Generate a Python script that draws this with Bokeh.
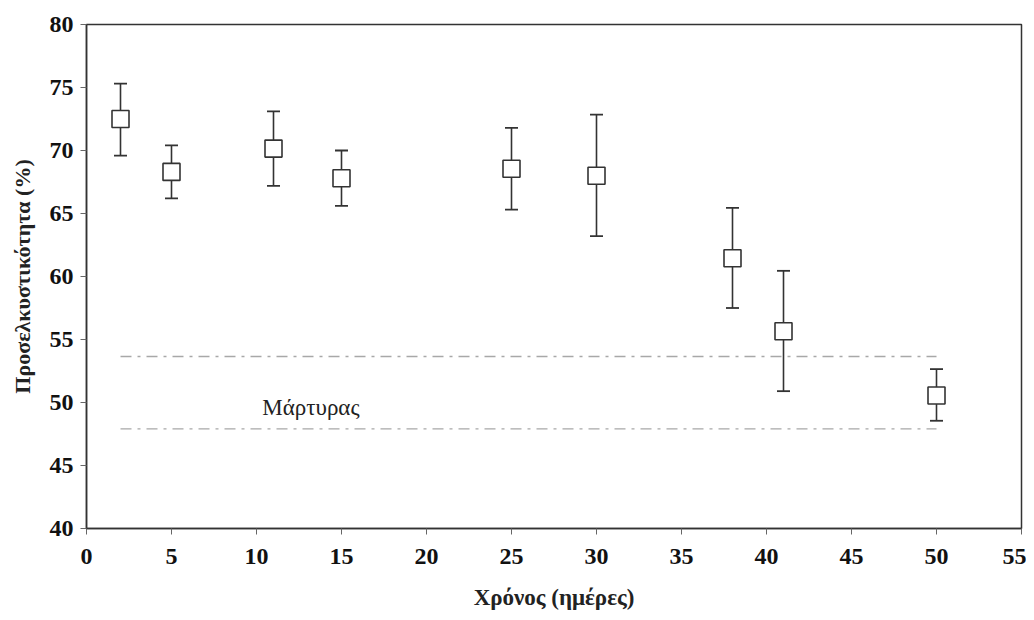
from bokeh.plotting import figure
from bokeh.models import ColumnDataSource, Whisker, Range1d, FixedTicker, TeeHead
from bokeh.core.properties import value
from bokeh.embed import file_html
from bokeh.resources import INLINE

# Data
days = [2, 5, 11, 15, 25, 30, 38, 41, 50]
attract = [72.5, 68.3, 70.15, 67.8, 68.55, 68.0, 61.45, 55.65, 50.55]
err_upper = [75.3, 70.4, 73.1, 70.0, 71.8, 72.85, 65.45, 60.45, 52.65]
err_lower = [69.6, 66.2, 67.2, 65.6, 65.3, 63.2, 57.5, 50.9, 48.55]
control_x = [2, 50]
control_upper = [53.65, 53.65]
control_lower = [47.9, 47.9]
control_label = ["Μάρτυρας"]
control_label_x = [13.2]
control_label_y = [49.6]
x_ticks = [0, 5, 10, 15, 20, 25, 30, 35, 40, 45, 50, 55]
y_ticks = [40, 45, 50, 55, 60, 65, 70, 75, 80]

SERIF = "Liberation Serif"

p = figure(width=1026, height=612, output_backend="svg", toolbar_location=None,
           x_range=Range1d(0, 55), y_range=Range1d(40, 80),
           min_border_left=86, min_border_top=24, min_border_right=5, min_border_bottom=83)
p.grid.visible = False
p.background_fill_color = "white"
p.border_fill_color = "white"
p.outline_line_color = "#333333"
p.outline_line_width = 1.5

src = ColumnDataSource(dict(x=days, y=attract, upper=err_upper, lower=err_lower))

# control lines
p.line(control_x, control_upper, line_color="#a8a8a8", line_width=1.3, line_dash="11 6 3 6")
p.line(control_x, control_lower, line_color="#a8a8a8", line_width=1.3, line_dash="11 6 3 6")
p.text(x=control_label_x, y=control_label_y, text=control_label, text_font=value(SERIF),
       text_font_size="23px", text_align="center", text_baseline="middle", text_color="#222222")

w = Whisker(source=src, base="x", upper="upper", lower="lower",
            line_color="#333333", line_width=1.6,
            upper_head=TeeHead(size=13, line_color="#333333", line_width=1.8),
            lower_head=TeeHead(size=13, line_color="#333333", line_width=1.8))
p.add_layout(w)

p.scatter("x", "y", source=src, marker="square", size=17, fill_color="white",
          line_color="#333333", line_width=1.6)

for ax in (p.xaxis[0], p.yaxis[0]):
    ax.axis_line_color = "#333333"
    ax.axis_line_width = 1.5
    ax.major_tick_line_color = "#666666"
    ax.major_tick_out = 6
    ax.major_tick_in = 0
    ax.minor_tick_line_color = None
    ax.major_label_text_font = SERIF
    ax.major_label_text_font_style = "bold"
    ax.major_label_text_font_size = "24px"
    ax.major_label_text_color = "#111111"
    ax.axis_label_text_font = SERIF
    ax.axis_label_text_font_style = "bold"
    ax.axis_label_text_color = "#222222"

p.xaxis.axis_label_text_font_size = "23px"
p.yaxis.axis_label_text_font_size = "22px"
p.xaxis.ticker = FixedTicker(ticks=x_ticks)
p.yaxis.ticker = FixedTicker(ticks=y_ticks)
p.xaxis.axis_label = "Χρόνος (ημέρες)"
p.yaxis.axis_label = "Προσελκυστικότητα (%)"
p.xaxis.major_label_standoff = 14
p.yaxis.major_label_standoff = 7
p.xaxis.axis_label_standoff = 18
p.yaxis.axis_label_standoff = 12

open("out.html", "w").write(file_html(p, INLINE))
